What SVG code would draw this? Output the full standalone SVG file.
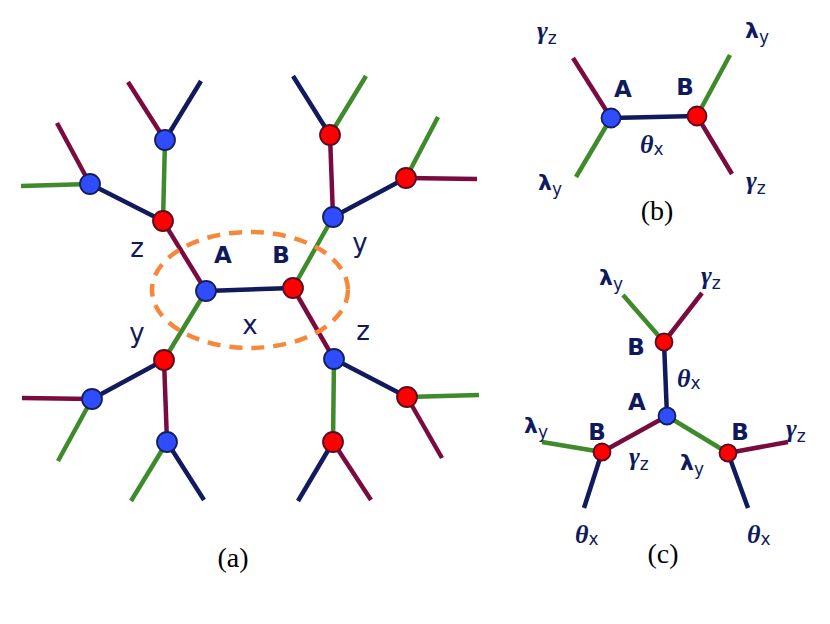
<svg xmlns="http://www.w3.org/2000/svg" width="830" height="624" viewBox="0 0 830 624">
<style>
.n{stroke:#101a5c;stroke-width:4.5;fill:none}
.m{stroke:#7a0b3e;stroke-width:4.5;fill:none}
.g{stroke:#3f8a2b;stroke-width:4.5;fill:none}
.bl{fill:#2f4dff;stroke:#15205a;stroke-width:1.8}
.rd{fill:#ff0000;stroke:#5a0a22;stroke-width:1.8}
.lb{font-family:"DejaVu Sans",sans-serif;font-weight:bold;font-size:23px;fill:#0f1a5c;text-anchor:middle}
.lc{font-family:"DejaVu Sans",sans-serif;font-size:26px;fill:#0f1a5c;text-anchor:middle}
.gr{font-family:"Liberation Serif",serif;font-style:italic;font-weight:bold;font-size:26px;fill:#0f1a5c}
.lam{font-family:"DejaVu Sans",sans-serif;font-weight:bold;font-size:22px;fill:#0f1a5c}
.sub{font-family:"DejaVu Sans",sans-serif;font-style:normal;font-weight:normal;font-size:17px;fill:#0f1a5c}
.cap{font-family:"Liberation Serif",serif;font-size:28px;fill:#000;text-anchor:middle}
</style>
<g id="connectors">
<line class="n" x1="206" y1="291" x2="293" y2="288"/>
<line class="m" x1="206" y1="291" x2="163" y2="221"/>
<line class="g" x1="206" y1="291" x2="164" y2="360"/>
<line class="g" x1="293" y1="288" x2="333" y2="217"/>
<line class="m" x1="293" y1="288" x2="334" y2="359"/>
<line class="g" x1="163" y1="221" x2="165" y2="140"/>
<line class="n" x1="163" y1="221" x2="90" y2="184"/>
<line class="m" x1="165" y1="140" x2="128" y2="82"/>
<line class="n" x1="165" y1="140" x2="201" y2="81"/>
<line class="m" x1="90" y1="184" x2="57" y2="123"/>
<line class="g" x1="90" y1="184" x2="21" y2="186"/>
<line class="m" x1="333" y1="217" x2="330" y2="135"/>
<line class="n" x1="333" y1="217" x2="406" y2="178"/>
<line class="n" x1="330" y1="135" x2="293" y2="76"/>
<line class="g" x1="330" y1="135" x2="366" y2="76"/>
<line class="g" x1="406" y1="178" x2="438" y2="117"/>
<line class="m" x1="406" y1="178" x2="477" y2="179"/>
<line class="n" x1="164" y1="360" x2="92" y2="399"/>
<line class="m" x1="164" y1="360" x2="167" y2="442"/>
<line class="m" x1="92" y1="399" x2="22" y2="398"/>
<line class="g" x1="92" y1="399" x2="58" y2="461"/>
<line class="g" x1="167" y1="442" x2="131" y2="501"/>
<line class="n" x1="167" y1="442" x2="204" y2="500"/>
<line class="n" x1="334" y1="359" x2="407" y2="397"/>
<line class="g" x1="334" y1="359" x2="333" y2="442"/>
<line class="g" x1="407" y1="397" x2="479" y2="395"/>
<line class="m" x1="407" y1="397" x2="442" y2="458"/>
<line class="n" x1="333" y1="442" x2="298" y2="501"/>
<line class="m" x1="333" y1="442" x2="371" y2="500"/>
<line class="n" x1="611" y1="118" x2="697" y2="116"/>
<line class="m" x1="611" y1="118" x2="573" y2="58"/>
<line class="g" x1="611" y1="118" x2="576" y2="177"/>
<line class="g" x1="697" y1="116" x2="730" y2="55"/>
<line class="m" x1="697" y1="116" x2="732" y2="174"/>
<line class="n" x1="667" y1="416" x2="664" y2="342"/>
<line class="m" x1="667" y1="416" x2="602" y2="452"/>
<line class="g" x1="667" y1="416" x2="728" y2="453"/>
<line class="g" x1="664" y1="342" x2="623" y2="295"/>
<line class="m" x1="664" y1="342" x2="702" y2="293"/>
<line class="g" x1="602" y1="452" x2="542" y2="442"/>
<line class="n" x1="602" y1="452" x2="584" y2="508"/>
<line class="m" x1="728" y1="453" x2="788" y2="442"/>
<line class="n" x1="728" y1="453" x2="748" y2="508"/>
</g>
<ellipse id="highlight" cx="250" cy="290" rx="98" ry="58" fill="none" stroke="#f7883b" stroke-width="4.5" stroke-dasharray="13 9"/>
<g id="a-A"><circle class="bl" cx="206" cy="291" r="10"/></g>
<g id="a-B"><circle class="rd" cx="293" cy="288" r="10"/></g>
<g id="a-r1"><circle class="rd" cx="163" cy="221" r="10"/></g>
<g id="a-b1"><circle class="bl" cx="165" cy="140" r="10"/></g>
<g id="a-b2"><circle class="bl" cx="90" cy="184" r="10"/></g>
<g id="a-b3"><circle class="bl" cx="333" cy="217" r="10"/></g>
<g id="a-r2"><circle class="rd" cx="330" cy="135" r="10"/></g>
<g id="a-r3"><circle class="rd" cx="406" cy="178" r="10"/></g>
<g id="a-r4"><circle class="rd" cx="164" cy="360" r="10"/></g>
<g id="a-b4"><circle class="bl" cx="92" cy="399" r="10"/></g>
<g id="a-b5"><circle class="bl" cx="167" cy="442" r="10"/></g>
<g id="a-b6"><circle class="bl" cx="334" cy="359" r="10"/></g>
<g id="a-r5"><circle class="rd" cx="407" cy="397" r="10"/></g>
<g id="a-r6"><circle class="rd" cx="333" cy="442" r="10"/></g>
<g id="b-A"><circle class="bl" cx="611" cy="118" r="9.5"/></g>
<g id="b-B"><circle class="rd" cx="697" cy="116" r="9.5"/></g>
<g id="c-A"><circle class="bl" cx="667" cy="416" r="8.5"/></g>
<g id="c-B1"><circle class="rd" cx="664" cy="342" r="8.5"/></g>
<g id="c-B2"><circle class="rd" cx="602" cy="452" r="8.5"/></g>
<g id="c-B3"><circle class="rd" cx="728" cy="453" r="8.5"/></g>
<g id="labels">
<text class="lb" x="223" y="263">A</text>
<text class="lb" x="281" y="263">B</text>
<text class="lc" x="137" y="257">z</text>
<text class="lc" x="360" y="252">y</text>
<text class="lc" x="137" y="342">y</text>
<text class="lc" x="250" y="334">x</text>
<text class="lc" x="363" y="340">z</text>
<text class="cap" x="233" y="567">(a)</text>

<text class="lb" x="623" y="97">A</text>
<text class="lb" x="685" y="95">B</text>
<text class="gr" x="537" y="39">γ<tspan class="sub" dy="5">z</tspan></text>
<text class="lam" x="745" y="38">λ<tspan class="sub" dy="5">y</tspan></text>
<text class="lam" x="538" y="190">λ<tspan class="sub" dy="5">y</tspan></text>
<text class="gr" x="746" y="189">γ<tspan class="sub" dy="5">z</tspan></text>
<text class="gr" x="640" y="153">θ<tspan class="sub" dy="2">x</tspan></text>
<text class="cap" x="657" y="220">(b)</text>

<text class="lam" x="599" y="285">λ<tspan class="sub" dy="5">y</tspan></text>
<text class="gr" x="701" y="284">γ<tspan class="sub" dy="5">z</tspan></text>
<text class="lb" x="636" y="355">B</text>
<text class="gr" x="677" y="387">θ<tspan class="sub" dy="2">x</tspan></text>
<text class="lb" x="637" y="410">A</text>
<text class="lam" x="524" y="433">λ<tspan class="sub" dy="5">y</tspan></text>
<text class="lb" x="597" y="440">B</text>
<text class="gr" x="629" y="465">γ<tspan class="sub" dy="5">z</tspan></text>
<text class="lam" x="680" y="470">λ<tspan class="sub" dy="5">y</tspan></text>
<text class="lb" x="740" y="440">B</text>
<text class="gr" x="786" y="437">γ<tspan class="sub" dy="5">z</tspan></text>
<text class="gr" x="575" y="543">θ<tspan class="sub" dy="2">x</tspan></text>
<text class="gr" x="747" y="543">θ<tspan class="sub" dy="2">x</tspan></text>
<text class="cap" x="663" y="563">(c)</text>
</g>
</svg>
